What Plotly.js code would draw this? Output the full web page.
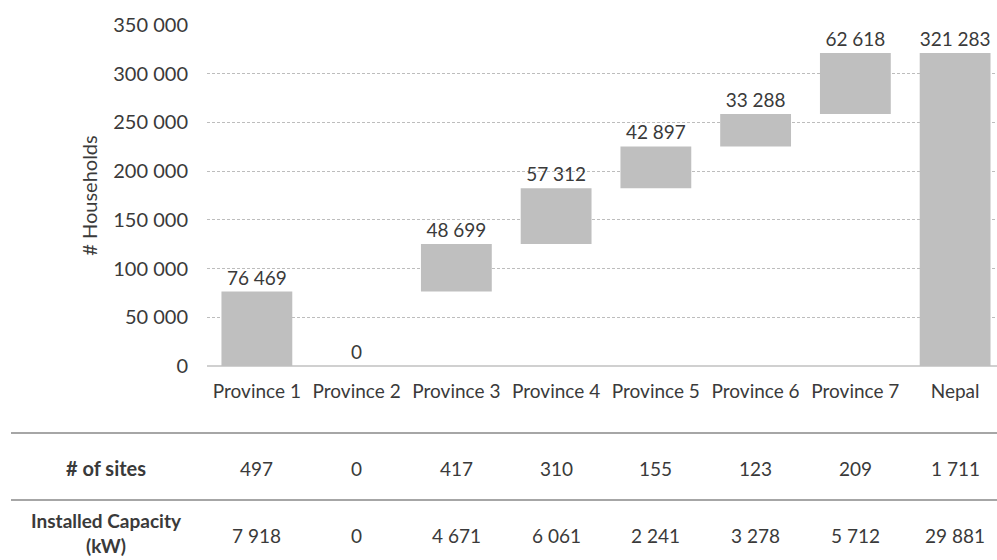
<!DOCTYPE html>
<html><head><meta charset="utf-8">
<script src="https://cdn.plot.ly/plotly-3.0.1.min.js"></script>
<style>html,body{margin:0;padding:0;background:#fff}#chart{width:997px;height:560px}</style>
</head><body><div id="chart"></div>
<script>
const categories = ["Province 1","Province 2","Province 3","Province 4","Province 5","Province 6","Province 7","Nepal"];
const households = [76469, 0, 48699, 57312, 42897, 33288, 62618, 321283];
const barBase = [0, 0, 76469, 125168, 182480, 225377, 258665, 0];
const sites = [497, 0, 417, 310, 155, 123, 209, 1711];
const capacityKW = [7918, 0, 4671, 6061, 2241, 3278, 5712, 29881];
const rowLabels = ["# of sites", "Installed Capacity<br>(kW)"];

const fmt = v => String(v).replace(/\B(?=(\d{3})+(?!\d))/g, " ");
const FONT = "Lato, 'Open Sans', sans-serif";
const TXT = "#3a3a3a";
const W = 997, H = 560, mL = 207, mR = 0, mT = 25, mB = 194;
const plotW = W - mL - mR, plotH = H - mT - mB;
const py = p => (H - mB - p) / plotH;
const px = p => (p - mL) / plotW;

const trace = {
  type: "bar", x: categories, y: households, base: barBase,
  width: 0.71, marker: {color: "#bfbfbf", line: {width: 0}},
  text: households.map(fmt), textposition: "outside", constraintext: "none",
  textfont: {family: FONT, size: 19, color: TXT}, cliponaxis: false,
  hoverinfo: "skip"
};

const annotations = [];
categories.forEach((c, i) => {
  annotations.push({xref: "x", yref: "paper", x: c, y: py(468), text: fmt(sites[i]), showarrow: false,
    xanchor: "center", yanchor: "middle", font: {family: FONT, size: 19, color: TXT}});
  annotations.push({xref: "x", yref: "paper", x: c, y: py(535), text: fmt(capacityKW[i]), showarrow: false,
    xanchor: "center", yanchor: "middle", font: {family: FONT, size: 19, color: TXT}});
});
annotations.push({xref: "paper", yref: "paper", x: px(106), y: py(468), text: "<b>" + rowLabels[0] + "</b>", showarrow: false,
  xanchor: "center", yanchor: "middle", font: {family: FONT, size: 20, color: TXT}});
annotations.push({xref: "paper", yref: "paper", x: px(106), y: py(533), text: "<b>" + rowLabels[1] + "</b>", showarrow: false,
  xanchor: "center", yanchor: "middle", align: "center", font: {family: FONT, size: 19, color: TXT}});

const shapes = [433, 500].map(p => ({type: "line", xref: "paper", yref: "paper",
  x0: px(11), x1: px(997), y0: py(p), y1: py(p), line: {color: "#a6a6a6", width: 2}}));

const layout = {
  width: W, height: H, margin: {l: mL, r: mR, t: mT, b: mB},
  paper_bgcolor: "#fff", plot_bgcolor: "#fff", showlegend: false,
  separators: ". ",
  font: {family: FONT, size: 19, color: TXT},
  xaxis: {type: "category", range: [-0.5, 7.42], showgrid: false, showline: false, ticks: "",
    ticklabelstandoff: 12, tickfont: {family: FONT, size: 19, color: TXT}, fixedrange: true},
  yaxis: {range: [0, 350000], tickvals: [0,50000,100000,150000,200000,250000,300000,350000],
    tickformat: ",d", showgrid: true, gridcolor: "#bdbdbd", gridwidth: 1, griddash: "3px,2px",
    zeroline: true, zerolinecolor: "#d0d0d0", zerolinewidth: 2, showline: false, ticks: "",
    ticklabelstandoff: 18, tickfont: {family: FONT, size: 20, color: TXT},
    title: {text: "# Households", standoff: 10, font: {family: FONT, size: 20, color: TXT}}, fixedrange: true},
  annotations, shapes
};
Plotly.newPlot("chart", [trace], layout, {displayModeBar: false, staticPlot: true});
</script></body></html>
